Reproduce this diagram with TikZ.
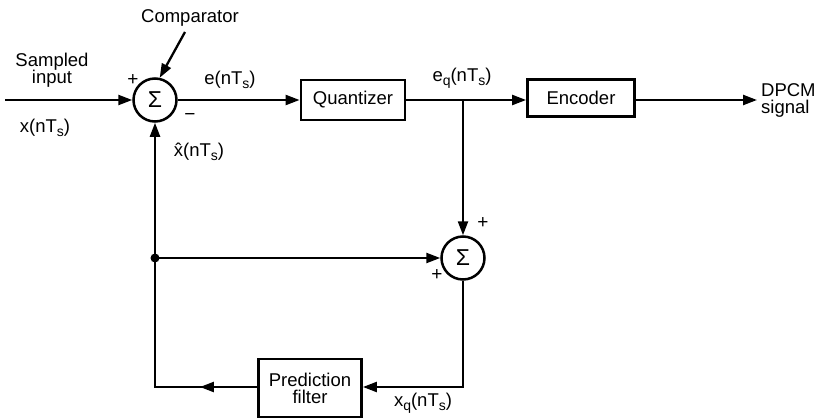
\documentclass[tikz,border=0pt]{standalone}
\usepackage{fontspec}
\setmainfont{Liberation Sans}
\usetikzlibrary{arrows.meta,calc}
\newcommand{\sbs}[1]{\raisebox{-0.4ex}{\fontsize{14}{14}\selectfont #1}}
\begin{document}
\begin{tikzpicture}[x=1pt,y=-1pt,
  line width=2.3pt,
  font=\fontsize{18.5}{20}\selectfont,
  blk/.style={draw, line width=2.8pt, inner sep=2pt},
  sumc/.style={draw, circle, minimum size=43pt, inner sep=0pt, line width=2.5pt},
  arr/.style={-{Triangle[length=14pt,width=10pt]}},
  lbl/.style={inner sep=0pt, align=center},
  sgn/.style={inner sep=0pt, font=\fontsize{19}{19}\selectfont}]
\useasboundingbox (0,0) rectangle (820,420);

\node[sumc] (s1) at (155,100) {\fontsize{23}{23}\selectfont Σ};
\node[sumc] (s2) at (463,258) {\fontsize{23}{23}\selectfont Σ};
\node[blk, minimum width=104pt, minimum height=40pt] (quant) at (353,100) {Quantizer};
\node[blk, minimum width=107pt, minimum height=37pt] (enc) at (581,98) {Encoder};
\node[blk, minimum width=103pt, minimum height=58pt, align=center] (pred) at (310,388) {Prediction\\[-3pt]filter};

\coordinate (in) at (5,100);
\coordinate (out) at (757,100);
\coordinate (tap) at (s2.north |- quant.east);
\coordinate (dot) at (155,258);
\coordinate (c1) at (155,387);
\coordinate (cs) at (185,32);

\node[lbl] (comp) at (190,18) {Comparator};
\node[lbl] (samp) at (52,70) {Sampled\\[-3pt]input};
\node[lbl] (xin) at (45,128) {x(nT\sbs{s})};
\node[lbl] (e) at (230,80) {e(nT\sbs{s})};
\node[lbl] (eq) at (462,78) {e\sbs{q}(nT\sbs{s})};
\node[lbl] (xh) at (199,152) {\^{x}(nT\sbs{s})};
\node[lbl, align=left, anchor=west] (dpcm) at (760,100) {DPCM\\[-3pt]signal};
\node[lbl] (xq) at (423,403) {x\sbs{q}(nT\sbs{s})};
\node[sgn] (p1) at (133,80) {+};
\node[sgn] (m1) at (190,117) {\textminus};
\node[sgn] (p2) at (483,223) {+};
\node[sgn] (p3) at (437,275) {+};

\draw[arr] (in) -- (s1.west);
\draw[arr] (s1.east) -- (quant.west);
\draw[arr] (quant.east) -- (enc.west |- quant.east);
\draw[arr] (enc.east |- quant.east) -- (out);
\draw[arr] (tap) -- (s2.north);
\draw[arr] (dot) -- (s2.west);
\draw[arr] (s2.south) |- (pred.east |- c1);
\draw[arr] (pred.west |- c1) -- ($(pred.west |- c1)!0.56!(c1)$);
\draw[arr] (pred.west |- c1) -- (c1) -- (s1.south);
\draw[arr] (cs) -- (s1.78);
\fill (dot) circle (4.5);
\end{tikzpicture}
\end{document}
